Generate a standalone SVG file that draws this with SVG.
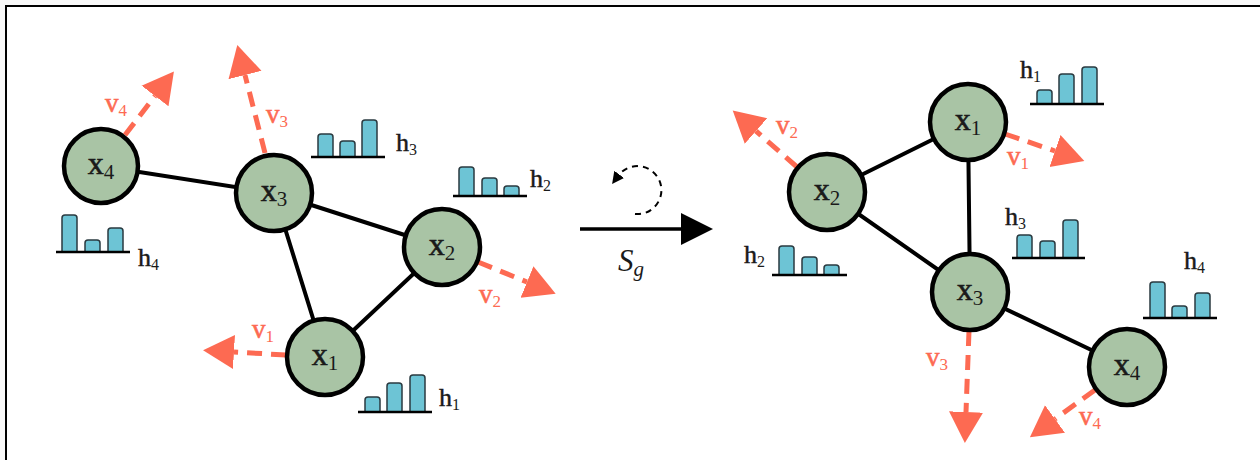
<svg xmlns="http://www.w3.org/2000/svg" width="1260" height="460" viewBox="0 0 1260 460">
<style>
.bg{fill:#f8f8f8}
.frame{fill:#fff;stroke:#000;stroke-width:2}
.edge{stroke:#000;stroke-width:4;fill:none;stroke-linecap:round}
.node circle{fill:#a9c4a5;stroke:#000;stroke-width:4.5}
.nl{font-family:"Liberation Serif",serif;font-size:32px;fill:#1a1a1a;text-anchor:middle}
.nl tspan.s{font-size:21px;font-weight:normal}
.xb{font-weight:normal;stroke:#1a1a1a;stroke-width:0.6}
.vec{stroke:#fd6a52;stroke-width:5;fill:none;stroke-dasharray:15 9}
.vl{font-family:"Liberation Serif",serif;font-size:27px;fill:#fd6a52}
.vl tspan.v{stroke:#fd6a52;stroke-width:0.6}
.vl tspan.s{font-size:17px}
.hl{font-family:"Liberation Serif",serif;font-size:26px;fill:#1a1a1a}
.hl tspan.h{stroke:#1a1a1a;stroke-width:0.5}
.hl tspan.s{font-size:16px}
.bar{fill:#6dc4d5;stroke:#2a3a40;stroke-width:1.5}
.base{stroke:#000;stroke-width:2.5}
.main{stroke:#000;stroke-width:3.5;fill:none}
.loop{stroke:#000;stroke-width:2;fill:none;stroke-dasharray:6 5}
.sg{font-family:"Liberation Serif",serif;font-style:italic;font-size:31px;fill:#1a1a1a}
</style>
<defs>
<marker id="ra" markerUnits="userSpaceOnUse" markerWidth="34" markerHeight="36" viewBox="0 -18 34 36" refX="0" refY="0" orient="auto">
<path d="M0,-17 L31,0 L0,17 z" fill="#fd6a52"/>
</marker>
<marker id="ba" markerUnits="userSpaceOnUse" markerWidth="34" markerHeight="34" viewBox="0 -17 34 34" refX="0" refY="0" orient="auto">
<path d="M0,-16 L32,0 L0,16 z" fill="#000"/>
</marker>
<marker id="sa" markerUnits="userSpaceOnUse" markerWidth="14" markerHeight="14" viewBox="0 -7 14 14" refX="2" refY="0" orient="auto">
<path d="M0,-6 L12,0 L0,6 z" fill="#000"/>
</marker>
</defs>
<rect class="bg" x="0" y="0" width="1260" height="460"/>
<rect class="frame" x="6" y="6" width="1262" height="462"/>

<!-- connectors -->
<g id="connectors">
<line class="edge" x1="101" y1="166" x2="274" y2="193"/>
<line class="edge" x1="274" y1="193" x2="442" y2="247"/>
<line class="edge" x1="274" y1="193" x2="325" y2="357"/>
<line class="edge" x1="325" y1="357" x2="442" y2="247"/>
<line class="edge" x1="827" y1="192" x2="968" y2="122"/>
<line class="edge" x1="827" y1="192" x2="970" y2="292"/>
<line class="edge" x1="968" y1="122" x2="970" y2="292"/>
<line class="edge" x1="970" y1="292" x2="1127" y2="367"/>
<!-- velocity arrows -->
<path class="vec" marker-end="url(#ra)" d="M125,135 L155,96"/>
<path class="vec" marker-end="url(#ra)" d="M265,153 L245,75"/>
<path class="vec" marker-end="url(#ra)" d="M478,262 L527,282"/>
<path class="vec" marker-end="url(#ra)" d="M286,355 L234,352"/>
<path class="vec" marker-end="url(#ra)" d="M797,167 L756,131"/>
<path class="vec" marker-end="url(#ra)" d="M1005,134 L1055,151"/>
<path class="vec" marker-end="url(#ra)" d="M969,331 L966,412"/>
<path class="vec" marker-end="url(#ra)" d="M1095,390 L1055,419"/>
<!-- transformation arrow -->
<path class="main" marker-end="url(#ba)" d="M580,229 L681,229"/>
<path class="loop" marker-end="url(#sa)" d="M635,214 A24,24 0 1 0 618,176"/>
</g>

<!-- left graph nodes -->
<g id="L_x4" class="node"><circle cx="101" cy="166" r="37"/><text class="nl" x="101" y="174"><tspan class="xb">x</tspan><tspan class="s" dy="5">4</tspan></text></g>
<g id="L_x3" class="node"><circle cx="274" cy="193" r="38"/><text class="nl" x="274" y="201"><tspan class="xb">x</tspan><tspan class="s" dy="5">3</tspan></text></g>
<g id="L_x2" class="node"><circle cx="442" cy="247" r="38"/><text class="nl" x="442" y="255"><tspan class="xb">x</tspan><tspan class="s" dy="5">2</tspan></text></g>
<g id="L_x1" class="node"><circle cx="325" cy="357" r="38"/><text class="nl" x="325" y="365"><tspan class="xb">x</tspan><tspan class="s" dy="5">1</tspan></text></g>

<!-- right graph nodes -->
<g id="R_x1" class="node"><circle cx="968" cy="122" r="38"/><text class="nl" x="968" y="130"><tspan class="xb">x</tspan><tspan class="s" dy="5">1</tspan></text></g>
<g id="R_x2" class="node"><circle cx="827" cy="192" r="38"/><text class="nl" x="827" y="200"><tspan class="xb">x</tspan><tspan class="s" dy="5">2</tspan></text></g>
<g id="R_x3" class="node"><circle cx="970" cy="292" r="38"/><text class="nl" x="970" y="300"><tspan class="xb">x</tspan><tspan class="s" dy="5">3</tspan></text></g>
<g id="R_x4" class="node"><circle cx="1127" cy="367" r="38"/><text class="nl" x="1127" y="375"><tspan class="xb">x</tspan><tspan class="s" dy="5">4</tspan></text></g>

<!-- velocity labels -->
<g id="vlabels">
<text class="vl" x="105" y="112"><tspan class="v">v</tspan><tspan class="s" dy="4">4</tspan></text>
<text class="vl" x="266" y="123"><tspan class="v">v</tspan><tspan class="s" dy="4">3</tspan></text>
<text class="vl" x="479" y="303"><tspan class="v">v</tspan><tspan class="s" dy="4">2</tspan></text>
<text class="vl" x="252" y="338"><tspan class="v">v</tspan><tspan class="s" dy="4">1</tspan></text>
<text class="vl" x="776" y="134"><tspan class="v">v</tspan><tspan class="s" dy="4">2</tspan></text>
<text class="vl" x="1007" y="165"><tspan class="v">v</tspan><tspan class="s" dy="4">1</tspan></text>
<text class="vl" x="926" y="366"><tspan class="v">v</tspan><tspan class="s" dy="4">3</tspan></text>
<text class="vl" x="1079" y="425"><tspan class="v">v</tspan><tspan class="s" dy="4">4</tspan></text>
</g>

<!-- feature histograms -->
<g id="L_h4">
<path class="bar" d="M62,252 V218 Q62,215 65,215 H74 Q77,215 77,218 V252"/>
<path class="bar" d="M85,252 V243 Q85,240 88,240 H97 Q100,240 100,243 V252"/>
<path class="bar" d="M108,252 V231 Q108,228 111,228 H120 Q123,228 123,231 V252"/>
<line class="base" x1="56" y1="252" x2="130" y2="252"/>
<text class="hl" x="138" y="266"><tspan class="h">h</tspan><tspan class="s" dy="4">4</tspan></text>
</g>
<g id="L_h3">
<path class="bar" d="M318,157 V137 Q318,134 321,134 H330 Q333,134 333,137 V157"/>
<path class="bar" d="M340,157 V144 Q340,141 343,141 H352 Q355,141 355,144 V157"/>
<path class="bar" d="M362,157 V123 Q362,120 365,120 H374 Q377,120 377,123 V157"/>
<line class="base" x1="311" y1="157" x2="385" y2="157"/>
<text class="hl" x="396" y="151"><tspan class="h">h</tspan><tspan class="s" dy="4">3</tspan></text>
</g>
<g id="L_h2">
<path class="bar" d="M459,196 V170 Q459,167 462,167 H471 Q474,167 474,170 V196"/>
<path class="bar" d="M482,196 V181 Q482,178 485,178 H494 Q497,178 497,181 V196"/>
<path class="bar" d="M504,196 V189 Q504,186 507,186 H516 Q519,186 519,189 V196"/>
<line class="base" x1="453" y1="196" x2="527" y2="196"/>
<text class="hl" x="530" y="187"><tspan class="h">h</tspan><tspan class="s" dy="4">2</tspan></text>
</g>
<g id="L_h1">
<path class="bar" d="M365,412 V400 Q365,397 368,397 H377 Q380,397 380,400 V412"/>
<path class="bar" d="M387,412 V386 Q387,383 390,383 H399 Q402,383 402,386 V412"/>
<path class="bar" d="M410,412 V378 Q410,375 413,375 H422 Q425,375 425,378 V412"/>
<line class="base" x1="358" y1="412" x2="432" y2="412"/>
<text class="hl" x="439" y="406"><tspan class="h">h</tspan><tspan class="s" dy="4">1</tspan></text>
</g>
<g id="R_h1">
<path class="bar" d="M1037,104 V93 Q1037,90 1040,90 H1049 Q1052,90 1052,93 V104"/>
<path class="bar" d="M1059,104 V77 Q1059,74 1062,74 H1071 Q1074,74 1074,77 V104"/>
<path class="bar" d="M1082,104 V70 Q1082,67 1085,67 H1094 Q1097,67 1097,70 V104"/>
<line class="base" x1="1030" y1="104" x2="1104" y2="104"/>
<text class="hl" x="1020" y="78"><tspan class="h">h</tspan><tspan class="s" dy="4">1</tspan></text>
</g>
<g id="R_h2">
<path class="bar" d="M779,275 V249 Q779,246 782,246 H791 Q794,246 794,249 V275"/>
<path class="bar" d="M802,275 V260 Q802,257 805,257 H814 Q817,257 817,260 V275"/>
<path class="bar" d="M824,275 V268 Q824,265 827,265 H836 Q839,265 839,268 V275"/>
<line class="base" x1="772" y1="275" x2="847" y2="275"/>
<text class="hl" x="744" y="263"><tspan class="h">h</tspan><tspan class="s" dy="4">2</tspan></text>
</g>
<g id="R_h3">
<path class="bar" d="M1017,258 V238 Q1017,235 1020,235 H1029 Q1032,235 1032,238 V258"/>
<path class="bar" d="M1040,258 V244 Q1040,241 1043,241 H1052 Q1055,241 1055,244 V258"/>
<path class="bar" d="M1063,258 V223 Q1063,220 1066,220 H1075 Q1078,220 1078,223 V258"/>
<line class="base" x1="1012" y1="258" x2="1085" y2="258"/>
<text class="hl" x="1005" y="225"><tspan class="h">h</tspan><tspan class="s" dy="4">3</tspan></text>
</g>
<g id="R_h4">
<path class="bar" d="M1150,318 V285 Q1150,282 1153,282 H1162 Q1165,282 1165,285 V318"/>
<path class="bar" d="M1172,318 V309 Q1172,306 1175,306 H1184 Q1187,306 1187,309 V318"/>
<path class="bar" d="M1195,318 V296 Q1195,293 1198,293 H1207 Q1210,293 1210,296 V318"/>
<line class="base" x1="1143" y1="318" x2="1217" y2="318"/>
<text class="hl" x="1184" y="269"><tspan class="h">h</tspan><tspan class="s" dy="4">4</tspan></text>
</g>

<g id="Sg_label">
<text class="sg" x="618" y="271">S<tspan font-size="21" dy="5">g</tspan></text>
</g>
</svg>
